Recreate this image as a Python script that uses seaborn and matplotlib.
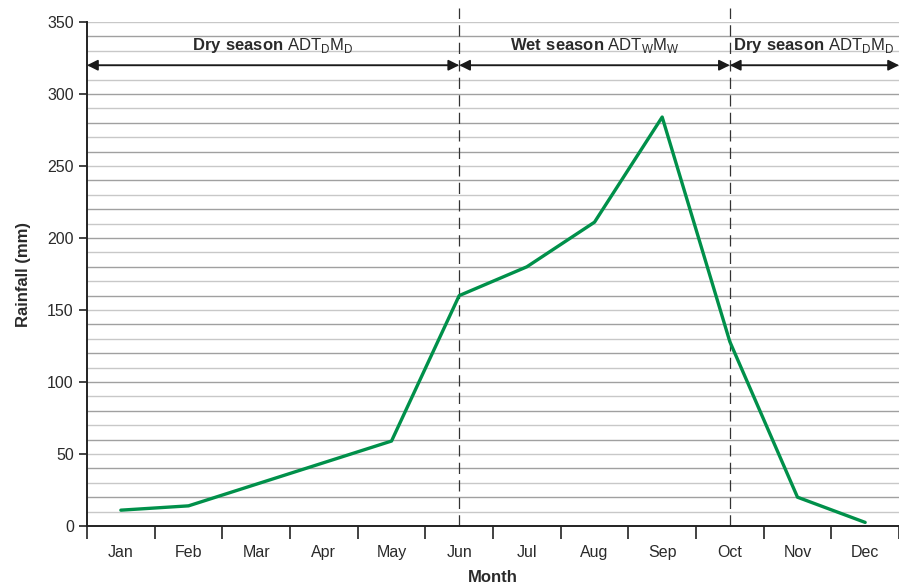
import matplotlib
matplotlib.use("Agg")
import matplotlib.pyplot as plt
import seaborn as sns
import pandas as pd

# monthly rainfall (mm)
months = ['Jan', 'Feb', 'Mar', 'Apr', 'May', 'Jun', 'Jul', 'Aug', 'Sep', 'Oct', 'Nov', 'Dec']
rainfall = [11, 14, 29, 44, 59, 160, 180, 211, 284, 128, 20, 2.5]

# season boundaries (month index) and labels
season_edges = [-0.5, 5, 9, 11.5]
season_names = ['Dry season', 'Wet season', 'Dry season']
season_subs = ['D', 'W', 'D']

sns.set_theme(style='white')
plt.rcParams['font.family'] = ['Liberation Sans', 'DejaVu Sans']
plt.rcParams['mathtext.fontset'] = 'custom'
plt.rcParams['mathtext.rm'] = 'Liberation Sans'
plt.rcParams['mathtext.bf'] = 'Liberation Sans:bold'

df = pd.DataFrame({'Month': months, 'Rainfall': rainfall, 'x': range(12)})

fig = plt.figure(figsize=(8.99, 5.84), dpi=100)
ax = fig.add_axes([0.0968, 0.0993, 0.9032, 0.8630])

# horizontal grid every 10 mm, alternating shades
for v in range(10, 351, 10):
    col = '#a0a0a0' if v % 20 == 0 else '#c8c8c8'
    ax.axhline(v, color=col, lw=1.0, zorder=0)

sns.lineplot(data=df, x='x', y='Rainfall', color='#00904a', lw=2.4, ax=ax, zorder=3)

# season divider lines
for xe in season_edges[1:3]:
    ax.plot([xe, xe], [0, 360], color='#333333', lw=0.9, ls=(0, (9, 5)),
            clip_on=False, zorder=2)

# season arrows and labels
for i in range(3):
    x0, x1 = season_edges[i], season_edges[i + 1]
    ax.annotate('', xy=(x0, 320), xytext=(x1, 320),
                arrowprops=dict(arrowstyle='<|-|>', color='#1a1a1a', lw=1.3,
                                mutation_scale=16, shrinkA=0, shrinkB=0),
                annotation_clip=False, zorder=4)
    s = season_subs[i]
    label = (r'$\mathbf{' + season_names[i].replace(' ', r'\ ') + r'}$ ADT$_{\mathrm{' + s
             + r'}}$M$_{\mathrm{' + s + r'}}$')
    if i == 2:
        ax.text(x0 + 0.04, 334, label, ha='left', va='center',
                fontsize=12, color='#2a2a2a', zorder=4)
    else:
        ax.text((x0 + x1) / 2, 334, label, ha='center', va='center',
                fontsize=12, color='#2a2a2a', zorder=4)

ax.set_xlim(-0.5, 11.5)
ax.set_ylim(0, 350)
ax.set_yticks(range(0, 351, 50))
ax.set_xticks([i + 0.5 for i in range(-1, 12)])
ax.set_xticklabels([])
ax.set_xticks(range(12), minor=True)
ax.set_xticklabels(months, minor=True)
ax.tick_params(axis='x', which='major', length=9, width=1.2, color='#222222', direction='out', bottom=True)
ax.tick_params(axis='x', which='minor', length=0, pad=14, labelsize=11.5, labelcolor='#2a2a2a')
ax.tick_params(axis='y', length=6, width=1.2, color='#222222', direction='out', left=True,
               labelsize=11.5, labelcolor='#2a2a2a')

for side in ['top', 'right']:
    ax.spines[side].set_visible(False)
for side in ['left', 'bottom']:
    ax.spines[side].set_color('#222222')
    ax.spines[side].set_linewidth(1.4)

ax.set_xlabel('Month', fontsize=12, fontweight='bold', color='#2a2a2a', labelpad=7)
ax.set_ylabel('Rainfall (mm)', fontsize=12, fontweight='bold', color='#2a2a2a', labelpad=12)

plt.savefig('out.png', dpi=100)
